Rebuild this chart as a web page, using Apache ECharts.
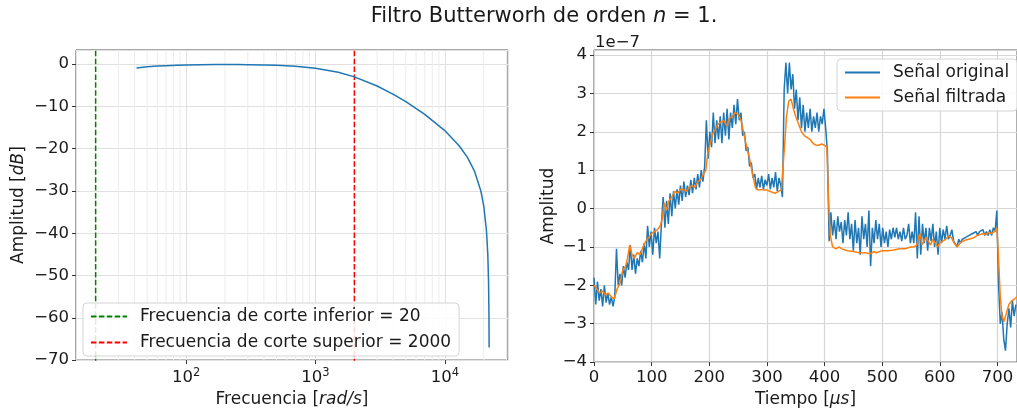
<!DOCTYPE html>
<html><head><meta charset="utf-8">
<script src="https://cdn.jsdelivr.net/npm/echarts@6/dist/echarts.min.js"></script>
<style>html,body{margin:0;padding:0;background:#fff}#c{width:1017px;height:413px}</style>
</head><body><div id="c"></div>
<script>
// ---------- DATA ----------
const chartTitle = 'Filtro Butterworh de orden {i|n} = 1.';
const offsetText = '1e−7';
const leftYLabel = 'Amplitud [{i|dB}]';
const leftXLabel = 'Frecuencia [{i|rad/s}]';
const rightYLabel = 'Amplitud';
const rightXLabel = 'Tiempo [{i|μs}]';

const bodeFreq = [41.4, 50, 60, 70, 85, 100, 130, 170, 200, 250, 300, 400, 500, 700, 1000, 1500, 2000, 3000, 4000, 5000, 7000, 10000, 13000, 15000, 17000, 19000, 20000, 21000, 21500, 21800, 21950, 22000, 22020];
const bodeDb   = [-0.9, -0.64, -0.46, -0.35, -0.24, -0.18, -0.12, -0.09, -0.09, -0.1, -0.12, -0.18, -0.27, -0.51, -0.97, -1.93, -3.01, -5.17, -7.13, -8.88, -11.89, -15.71, -19.42, -22.1, -25.37, -30.0, -33.5, -39.4, -45.0, -51.9, -59.7, -65.8, -67.0];

const cutoffLow = 20;
const cutoffHigh = 2000;
const cutoffLowName = 'Frecuencia de corte inferior = 20';
const cutoffHighName = 'Frecuencia de corte superior = 2000';
const minorGridFreq = [20,30,40,50,60,70,80,90,200,300,400,500,600,700,800,900,2000,3000,4000,5000,6000,7000,8000,9000,20000,30000];

// time in microseconds, amplitude in units of 1e-7
const originalSamples = [
[0,-1.8],[3,-2.5],[6,-1.9],[9,-2.4],[12,-2.1],[15,-2.55],[18,-2.0],[21,-2.45],[24,-2.2],[27,-2.5],[30,-2.3],[33,-2.55],
[36,-2.3],[39,-1.05],[42,-2.0],[45,-1.7],[48,-2.0],[51,-1.5],[54,-1.8],[57,-1.4],[60,-1.6],[63,-0.95],[66,-1.6],[69,-1.2],
[72,-1.7],[75,-1.3],[78,-1.5],[81,-1.1],[84,-1.4],[87,-0.9],[90,-1.3],[93,-0.45],[96,-1.0],[99,-0.6],[102,-1.2],[105,-0.5],
[108,-0.9],[111,-0.6],[114,-1.3],[117,-0.4],[120,0.3],[123,-0.5],[126,0.2],[129,-0.4],[132,0.4],[135,-0.2],[138,0.45],[141,0.0],
[144,0.5],[147,0.1],[150,0.6],[153,0.2],[156,0.7],[159,0.3],[162,0.6],[165,0.35],[168,0.75],[171,0.4],[174,0.8],[177,0.5],
[180,0.9],[183,0.55],[186,1.0],[189,0.7],[192,1.1],[195,2.3],[198,1.3],[201,2.0],[204,1.6],[207,2.5],[210,1.7],[213,2.3],
[216,1.8],[219,2.4],[222,1.7],[225,2.5],[228,1.9],[231,2.6],[234,1.8],[237,2.5],[240,2.1],[243,2.7],[246,2.2],[249,2.85],
[252,2.3],[255,2.5],[258,1.9],[261,2.0],[264,1.5],[267,1.6],[270,1.1],[273,1.2],[276,0.8],[279,0.9],[282,0.5],[285,0.8],
[288,0.55],[291,0.85],[294,0.5],[297,0.75],[300,0.6],[303,0.9],[306,0.5],[309,0.8],[312,0.55],[315,0.95],[318,0.45],[321,0.8],
[324,0.6],[327,0.3],[330,3.1],[333,3.8],[336,3.0],[339,3.8],[342,3.1],[345,3.5],[348,2.6],[351,3.1],[354,2.3],[357,2.9],
[360,2.1],[363,2.7],[366,2.0],[369,2.5],[372,2.1],[375,2.6],[378,2.0],[381,2.4],[384,2.1],[387,2.5],[390,2.0],[393,2.4],
[396,2.2],[399,2.6],[402,2.1],[405,1.5],[408,-0.85],[411,-0.1],[414,-0.7],[417,-0.3],[420,-0.8],[423,-0.2],[426,-0.6],[429,-0.35],
[432,-0.9],[435,-0.3],[438,-0.7],[441,-0.1],[444,-0.8],[447,-0.4],[450,-1.1],[453,-0.3],[456,-0.9],[459,-0.5],[462,-1.2],[465,-0.2],
[468,-0.8],[471,-0.4],[474,-1.0],[477,-0.05],[480,-1.5],[483,-0.5],[486,-0.9],[489,-0.3],[492,-0.8],[495,-0.4],[498,-1.0],[501,-0.5],
[504,-0.9],[507,-0.6],[510,-1.0],[513,-0.55],[516,-0.8],[519,-0.5],[522,-0.75],[525,-0.5],[528,-0.8],[531,-0.6],[534,-0.85],[537,-0.5],
[540,-0.8],[543,-0.7],[546,-0.4],[549,-0.9],[552,-0.6],[555,-0.9],[558,-0.1],[561,-1.3],[564,-0.2],[567,-1.2],[570,-0.4],[573,-0.9],
[576,-0.5],[579,-1.1],[582,-0.5],[585,-0.85],[588,-0.4],[591,-1.0],[594,-0.6],[597,-1.2],[600,-0.5],[603,-0.9],[606,-0.55],[609,-0.8],
[612,-0.45],[615,-0.8],[618,-0.7],[621,-0.55],[624,-0.85],[627,-0.8],[630,-1.0],[633,-0.8],[636,-0.9],[639,-0.8],[642,-0.85],[645,-0.75],
[648,-0.8],[651,-0.7],[654,-0.75],[657,-0.65],[660,-0.7],[663,-0.6],[666,-0.7],[669,-0.6],[672,-0.65],[675,-0.55],[678,-0.7],[681,-0.6],
[684,-0.7],[687,-0.55],[690,-0.7],[693,-0.5],[696,-0.6],[699,-0.05],[702,-2.0],[705,-3.0],[708,-2.7],[711,-3.4],[714,-3.7],[717,-3.0],
[720,-2.6],[723,-3.1],[726,-2.4],[729,-2.8],[732,-2.5]
];

const filteredTime  = [0,5,10,15,20,25,30,35,40,45,50,55,58,62,66,70,75,80,85,90,95,100,105,110,115,118,122,126,130,135,140,145,150,155,160,165,170,175,180,185,190,194,198,202,206,210,215,220,225,230,235,240,245,250,255,260,265,270,275,280,285,290,295,300,305,310,315,320,325,328,331,334,338,342,346,350,355,360,365,370,375,380,385,390,395,400,404,407,410,414,420,425,430,440,450,460,470,480,485,490,500,510,520,530,540,545,550,555,560,563,566,569,572,576,580,584,588,592,596,600,605,610,615,620,625,630,635,640,645,650,655,660,665,670,675,680,685,690,695,699,702,705,708,711,715,720,725,730,734];
const filteredValue = [-2.0,-2.1,-2.2,-2.15,-2.25,-2.2,-2.3,-2.35,-2.1,-1.95,-1.6,-1.5,-1.3,-0.95,-1.2,-1.3,-1.15,-1.2,-1.0,-0.85,-0.75,-0.65,-0.6,-0.55,-0.45,-0.3,0.15,-0.05,0.2,0.3,0.45,0.4,0.5,0.5,0.45,0.55,0.6,0.55,0.7,0.75,0.9,1.0,1.5,1.7,1.95,2.05,2.2,2.25,2.3,2.15,2.35,2.4,2.5,2.45,2.3,1.95,1.6,1.3,0.9,0.55,0.48,0.5,0.48,0.48,0.45,0.42,0.4,0.45,0.48,0.45,1.7,2.4,2.8,2.85,2.6,2.4,2.2,2.0,1.9,1.85,1.8,1.7,1.65,1.65,1.68,1.65,1.6,0.2,-0.7,-1.0,-1.05,-1.0,-1.05,-1.1,-1.12,-1.15,-1.15,-1.18,-1.12,-1.15,-1.1,-1.1,-1.08,-1.05,-1.05,-1.02,-1.0,-1.0,-0.95,-0.75,-0.65,-0.95,-1.0,-0.75,-0.85,-0.95,-0.8,-0.9,-1.0,-0.9,-0.85,-0.8,-0.72,-0.75,-0.9,-1.0,-0.9,-0.85,-0.82,-0.8,-0.78,-0.75,-0.7,-0.68,-0.65,-0.68,-0.62,-0.65,-0.6,-0.5,-1.3,-2.3,-2.8,-2.95,-2.75,-2.5,-2.4,-2.35,-2.3];

// ---------- CHART ----------
const FONT = 'DejaVu Sans';
const TXT = '#1a1a1a';
const leftYMin = -70, leftYMax = 3.35;
const rightYMin = -4, rightYMax = 4.13;
const minus = s => String(s).replace('-', '−');
const italic = { fontStyle: 'italic', fontFamily: FONT, fontSize: 17, color: TXT };

const chart = echarts.init(document.getElementById('c'), null, { renderer: 'canvas' });

const tickStyle = { show: true, length: 4, lineStyle: { color: '#333', width: 1 } };
const hiddenLine = { show: false, onZero: false };
const legendCommon = {
  orient: 'vertical', itemHeight: 10, padding: [5, 8, 5, 7], selectedMode: false, z: 20,
  backgroundColor: 'rgba(255,255,255,0.85)', borderColor: '#d4d4d4', borderWidth: 1, borderRadius: 4,
  itemStyle: { opacity: 0, borderWidth: 0 },
  textStyle: { fontFamily: FONT, fontSize: 17, color: TXT, lineHeight: 17, padding: [0, 0, 0, 8] }
};

// minor log grid lines as vertical segments spanning the axis
const minorGridData = [];
minorGridFreq.forEach(f => { minorGridData.push([f, leftYMin - 1], [f, leftYMax], [f, '-']); });

const option = {
  animation: false,
  backgroundColor: '#fff',
  textStyle: { fontFamily: FONT },
  graphic: [
    { type: 'text', x: 544, y: 17, style: { text: chartTitle, fontFamily: FONT, fontSize: 21, fill: TXT, align: 'center', verticalAlign: 'middle',
      rich: { i: { fontStyle: 'italic', fontFamily: FONT, fontSize: 21, fill: TXT } } } },
    { type: 'text', x: 595, y: 43, style: { text: offsetText, fontFamily: FONT, fontSize: 16.5, fill: TXT, align: 'left', verticalAlign: 'middle' } }
  ],
  grid: [
    { left: 76, top: 50, width: 432, height: 313.3, show: true, borderColor: '#555', borderWidth: 1, backgroundColor: 'transparent', containLabel: false },
    { left: 594, top: 50, width: 428, height: 313.3, show: true, borderColor: '#555', borderWidth: 1, backgroundColor: 'transparent', containLabel: false }
  ],
  xAxis: [
    { type: 'log', gridIndex: 0, logBase: 10, min: 14.1, max: 30800,
      axisLine: hiddenLine, axisTick: tickStyle,
      axisLabel: { margin: 7, fontFamily: FONT, fontSize: 16.5, color: TXT, showMinLabel: false, showMaxLabel: false,
        formatter: v => { const e = Math.log10(v); return Math.abs(e - Math.round(e)) < 1e-6 ? '10{sup|' + Math.round(e) + '}' : ''; },
        rich: { sup: { fontSize: 11.5, fontFamily: FONT, color: TXT, padding: [0, 0, 9, 0] } } },
      splitLine: { show: true, lineStyle: { color: '#e0e0e0', width: 1 } },
      name: leftXLabel, nameLocation: 'middle', nameGap: 30,
      nameTextStyle: { fontFamily: FONT, fontSize: 17, color: TXT, rich: { i: italic } } },
    { type: 'value', gridIndex: 1, min: 0, max: 734, interval: 100,
      axisLine: hiddenLine, axisTick: tickStyle,
      axisLabel: { margin: 7, fontFamily: FONT, fontSize: 16.5, color: TXT, showMaxLabel: false,
        formatter: v => (v % 100 === 0 ? String(v) : '') },
      splitLine: { show: true, lineStyle: { color: '#d6d6d6', width: 1.2 } },
      name: rightXLabel, nameLocation: 'middle', nameGap: 28,
      nameTextStyle: { fontFamily: FONT, fontSize: 17, color: TXT, rich: { i: italic } } }
  ],
  yAxis: [
    { type: 'value', gridIndex: 0, min: leftYMin, max: leftYMax, interval: 10,
      axisLine: hiddenLine, axisTick: tickStyle,
      axisLabel: { margin: 7, fontFamily: FONT, fontSize: 16.5, color: TXT, showMaxLabel: false,
        formatter: v => (Math.abs(v % 10) < 1e-6 ? minus(v) : '') },
      splitLine: { show: true, lineStyle: { color: '#e0e0e0', width: 1 } },
      name: leftYLabel, nameLocation: 'middle', nameGap: 49,
      nameTextStyle: { fontFamily: FONT, fontSize: 17, color: TXT, rich: { i: italic } } },
    { type: 'value', gridIndex: 1, min: rightYMin, max: rightYMax, interval: 1,
      axisLine: hiddenLine, axisTick: tickStyle,
      axisLabel: { margin: 7, fontFamily: FONT, fontSize: 16.5, color: TXT, showMaxLabel: false,
        formatter: v => (Math.abs(v - Math.round(v)) < 1e-6 ? minus(Math.round(v)) : '') },
      splitLine: { show: true, lineStyle: { color: '#d6d6d6', width: 1.2 } },
      name: rightYLabel, nameLocation: 'middle', nameGap: 37,
      nameTextStyle: { fontFamily: FONT, fontSize: 17, color: TXT } }
  ],
  legend: [
    Object.assign({}, legendCommon, { data: [cutoffLowName, cutoffHighName], left: 83, top: 303, itemWidth: 36, itemGap: 9 }),
    Object.assign({}, legendCommon, { data: ['Señal original', 'Señal filtrada'], left: 837, top: 59, itemWidth: 35, itemGap: 8 })
  ],
  series: [
    { name: 'minor-grid', type: 'line', xAxisIndex: 0, yAxisIndex: 0, symbol: 'none', z: 1, silent: true,
      connectNulls: false, data: minorGridData,
      lineStyle: { color: '#ececec', width: 1 } },
    { name: 'bode', type: 'line', xAxisIndex: 0, yAxisIndex: 0, symbol: 'none', z: 3,
      data: bodeFreq.map((f, i) => [f, bodeDb[i]]),
      lineStyle: { color: '#1f77b4', width: 1.5 } },
    { name: cutoffLowName, type: 'line', xAxisIndex: 0, yAxisIndex: 0, symbol: 'none', z: 2,
      data: [[cutoffLow, leftYMin - 1], [cutoffLow, leftYMax]], itemStyle: { color: '#008000' },
      lineStyle: { color: '#008000', width: 1.5, type: [5.5, 2.4] } },
    { name: cutoffHighName, type: 'line', xAxisIndex: 0, yAxisIndex: 0, symbol: 'none', z: 2,
      data: [[cutoffHigh, leftYMin - 1], [cutoffHigh, leftYMax]], itemStyle: { color: '#ff0000' },
      lineStyle: { color: '#ff0000', width: 1.5, type: [5.5, 2.4] } },
    { name: 'Señal original', type: 'line', xAxisIndex: 1, yAxisIndex: 1, symbol: 'none', z: 3,
      data: originalSamples, itemStyle: { color: '#1f77b4' },
      lineStyle: { color: '#1f77b4', width: 1.5 } },
    { name: 'Señal filtrada', type: 'line', xAxisIndex: 1, yAxisIndex: 1, symbol: 'none', z: 4,
      data: filteredTime.map((t, i) => [t, filteredValue[i]]), itemStyle: { color: '#ff7f0e' },
      lineStyle: { color: '#ff7f0e', width: 1.5 } }
  ]
};
chart.setOption(option);
</script></body></html>
